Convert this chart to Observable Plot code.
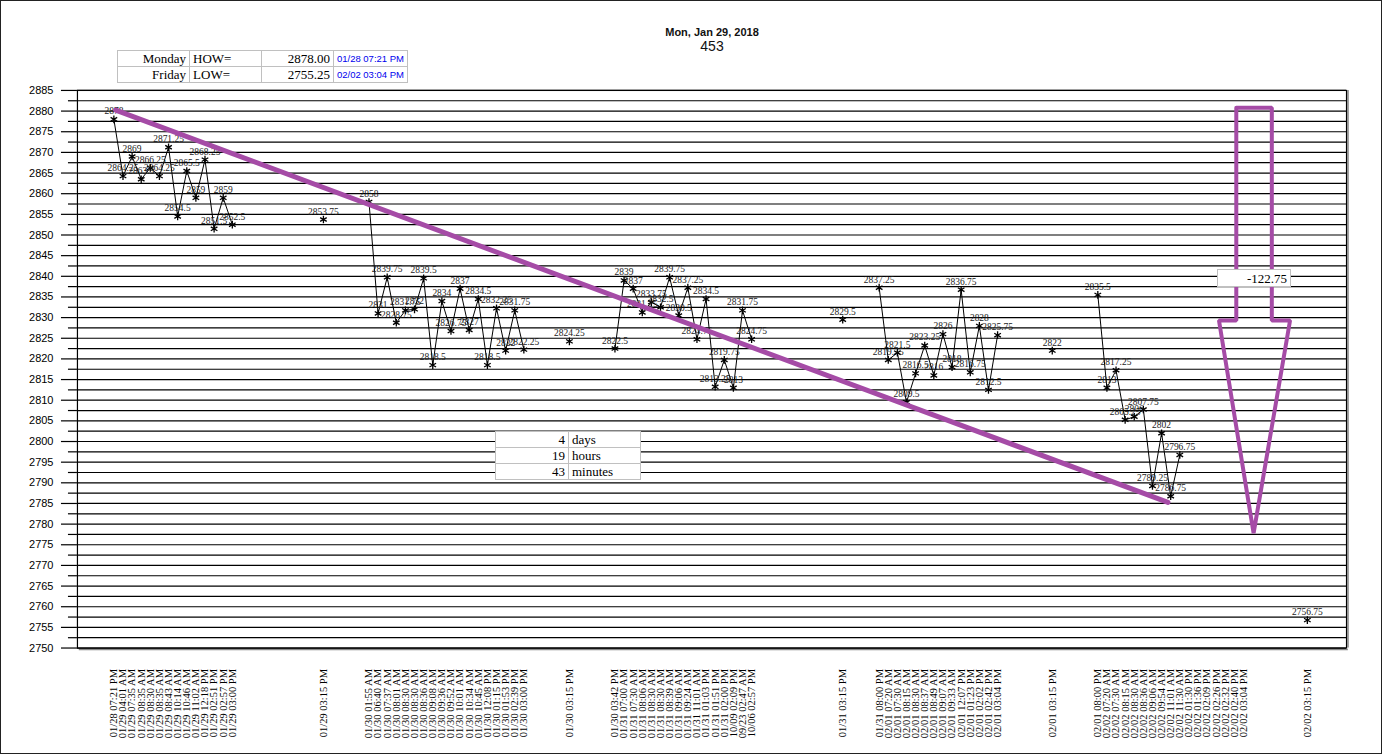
<!DOCTYPE html>
<html>
<head>
<meta charset="utf-8">
<script src="https://cdn.jsdelivr.net/npm/d3@7"></script>
<script src="https://cdn.jsdelivr.net/npm/@observablehq/plot@0.6"></script>
<style>
  html, body { margin: 0; padding: 0; background: #fff; }
  #wrap { position: relative; width: 1382px; height: 754px; box-sizing: border-box; border: 1px solid #222; overflow: hidden; }
  #chart { position: absolute; left: -1px; top: -1px; }
  .ov { position: absolute; }
  table.box { border-collapse: collapse; background: #fff; font-family: "Liberation Serif", serif; font-size: 13px; }
  table.box td { border: 1px solid #c0c0c0; padding: 0 3px; height: 15px; line-height: 15px; white-space: nowrap; }
  .title { font-family: "Liberation Sans", Arial, sans-serif; text-align: center; width: 300px; color: #111; }
</style>
</head>
<body>
<div id="wrap">
  <div id="chart"></div>
  <div class="ov title" style="left:561px; top:25px; font-size:11px; font-weight:bold;">Mon, Jan 29, 2018</div>
  <div class="ov title" style="left:561px; top:37px; font-size:14px;">453</div>
  <table class="ov box" style="left:116px; top:49px; width:291px;">
    <tr><td style="width:66px;text-align:right">Monday</td><td style="width:66px">HOW=</td><td style="width:66px;text-align:right">2878.00</td><td style="width:66px;text-align:right;color:#0000ee;font-family:'Liberation Sans',sans-serif;font-size:9.5px">01/28 07:21 PM</td></tr>
    <tr><td style="text-align:right">Friday</td><td>LOW=</td><td style="text-align:right">2755.25</td><td style="text-align:right;color:#0000ee;font-family:'Liberation Sans',sans-serif;font-size:9.5px">02/02 03:04 PM</td></tr>
  </table>
  <table class="ov box" style="left:494px; top:430px; width:146px;">
    <tr><td style="width:66px;text-align:right">4</td><td>days</td></tr>
    <tr><td style="text-align:right">19</td><td>hours</td></tr>
    <tr><td style="text-align:right">43</td><td>minutes</td></tr>
  </table>
  <table class="ov box" style="left:1216px; top:268px; width:74px;">
    <tr><td style="text-align:right;height:16px">-122.75</td></tr>
  </table>
</div>
<script>
const categories = [
"01/28 07:21 PM","01/29 04:01 AM","01/29 07:35 AM","01/29 08:35 AM","01/29 08:30 AM","01/29 08:35 AM","01/29 08:43 AM","01/29 10:14 AM","01/29 10:46 AM","01/29 11:02 AM","01/29 12:18 PM","01/29 02:51 PM","01/29 02:57 PM","01/29 03:00 PM",
"","","","","","","","","",
"01/29 03:15 PM",
"","","","",
"01/30 01:55 AM","01/30 06:40 AM","01/30 07:37 AM","01/30 08:01 AM","01/30 08:30 AM","01/30 08:30 AM","01/30 08:36 AM","01/30 09:08 AM","01/30 09:36 AM","01/30 09:52 AM","01/30 10:01 AM","01/30 10:34 AM","01/30 10:45 AM","01/30 12:08 PM","01/30 01:15 PM","01/30 01:53 PM","01/30 02:39 PM","01/30 03:00 PM",
"","","","",
"01/30 03:15 PM",
"","","","",
"01/30 03:42 PM","01/31 07:00 AM","01/31 07:30 AM","01/31 08:06 AM","01/31 08:30 AM","01/31 08:30 AM","01/31 08:39 AM","01/31 09:06 AM","01/31 09:24 AM","01/31 11:01 AM","01/31 01:03 PM","01/31 01:51 PM","01/31 02:00 PM","10/09 02:09 PM","09/23 02:47 AM","10/06 02:57 PM",
"","","","","","","","","",
"01/31 03:15 PM",
"","","",
"01/31 08:00 PM","02/01 07:20 AM","02/01 07:30 AM","02/01 08:15 AM","02/01 08:30 AM","02/01 08:37 AM","02/01 08:49 AM","02/01 09:07 AM","02/01 09:33 AM","02/01 12:07 PM","02/01 01:23 PM","02/01 02:02 PM","02/01 02:42 PM","02/01 03:04 PM",
"","","","","",
"02/01 03:15 PM",
"","","","",
"02/01 08:00 PM","02/02 07:20 AM","02/02 07:30 AM","02/02 08:15 AM","02/02 08:30 AM","02/02 08:36 AM","02/02 09:06 AM","02/02 09:54 AM","02/02 11:01 AM","02/02 11:30 AM","02/02 01:30 PM","02/02 01:36 PM","02/02 02:09 PM","02/02 02:26 PM","02/02 02:32 PM","02/02 02:40 PM","02/02 03:04 PM",
"","","","","","",
"02/02 03:15 PM"
];

const values = [
2878,2864.25,2869,2863.5,2866.25,2864.25,2871.25,2854.5,2865.5,2859,2868.25,2851.5,2859,2852.5,
null,null,null,null,null,null,null,null,null,
2853.75,
null,null,null,null,
2858,2831,2839.75,2828.75,2831.75,2832,2839.5,2818.5,2834,2826.75,2837,2827,2834.5,2818.5,2832.25,2822,2831.75,2822.25,
null,null,null,null,
2824.25,
null,null,null,null,
2822.5,2839,2837,2831.25,2833.75,2832.5,2839.75,2830.5,2837.25,2824.75,2834.5,2813.25,2819.75,2813,2831.75,2824.75,
null,null,null,null,null,null,null,null,null,
2829.5,
null,null,null,
2837.25,2819.75,2821.5,2809.5,2816.5,2823.25,2816,2826,2818,2836.75,2816.75,2828,2812.5,2825.75,
null,null,null,null,null,
2822,
null,null,null,null,
2835.5,2813,2817.25,2805.25,2806,2807.75,2789.25,2802,2786.75,2796.75,null,null,null,null,null,null,null,
null,null,null,null,null,null,
2756.75
];

const yTickLabels = [2750,2755,2760,2765,2770,2775,2780,2785,2790,2795,2800,2805,2810,2815,2820,2825,2830,2835,2840,2845,2850,2855,2860,2865,2870,2875,2880,2885];

// drawn trend line (category position, price)
const trendPos = [0.2, 115.7];
const trendVal = [2880.25, 2785.25];

// drawn down arrow outline (category position, price)
const arrowPos = [123.2, 127.1, 127.1, 129.1, 125.1, 121.3, 123.2, 123.2];
const arrowVal = [2880.8, 2880.8, 2829.3, 2829.3, 2777.8, 2829.3, 2829.3, 2880.8];

const data = values.map((v, i) => ({i, v, label: categories[i]}));
const pts = data.filter(d => d.v != null);
const tickIdx = data.filter(d => d.label !== "").map(d => d.i);
const yMinor = yTickLabels.slice(0, -1).map(t => t + 2.5);
const yGrid = yTickLabels.concat(yMinor);
const trend = trendPos.map((p, k) => ({p, v: trendVal[k]}));
const arrow = arrowPos.map((p, k) => ({p, v: arrowVal[k]}));
const purple = "#a54ba6";

const chart = Plot.plot({
  width: 1382,
  height: 754,
  marginLeft: 77,
  marginRight: 35,
  marginTop: 90,
  marginBottom: 106,
  style: {fontFamily: "Liberation Sans, Arial, sans-serif", fontSize: "11px", background: "transparent", color: "#000"},
  x: {domain: [-4, 135.3], axis: null},
  y: {domain: [2750, 2885], axis: null},
  marks: [
    Plot.ruleY([2750], {stroke: "#888", strokeWidth: 1.5, dy: 1.5, x1: -3.8, x2: 135.5}),
    Plot.ruleX([135.3], {stroke: "#888", strokeWidth: 1.5, dx: 1.5}),
    Plot.ruleY(yGrid, {stroke: "#000", strokeWidth: 1.2}),
    Plot.axisY(yTickLabels, {tickSize: 16, tickPadding: 8, fontSize: 11, strokeWidth: 1.2, tickFormat: d => String(d), label: null}),
    Plot.axisY(yMinor, {tickSize: 9, tickFormat: () => "", strokeWidth: 1.2, label: null}),
    Plot.frame({stroke: "#000", strokeWidth: 1.2}),
    Plot.line(data, {x: "i", y: "v", stroke: "#000", strokeWidth: 1}),
    Plot.dot(pts, {x: "i", y: "v", symbol: "asterisk", r: 3.6, stroke: "#000", strokeWidth: 1.3}),
    Plot.text(pts, {x: "i", y: "v", text: d => String(d.v), dy: -5, lineAnchor: "bottom", fontFamily: "'Liberation Serif', serif", fontSize: 9.5, fill: "#1a1a1a"}),
    Plot.line(trend, {x: "p", y: "v", stroke: purple, strokeWidth: 5}),
    Plot.line(arrow, {x: "p", y: "v", stroke: purple, strokeWidth: 4, strokeLinejoin: "miter"}),
    Plot.axisX(tickIdx, {tickFormat: i => categories[i], tickRotate: -90, tickSize: 0, tickPadding: 21, fontFamily: "'Liberation Serif', serif", fontSize: 10.5, label: null})
  ]
});
document.getElementById("chart").appendChild(chart);
</script>
</body>
</html>
